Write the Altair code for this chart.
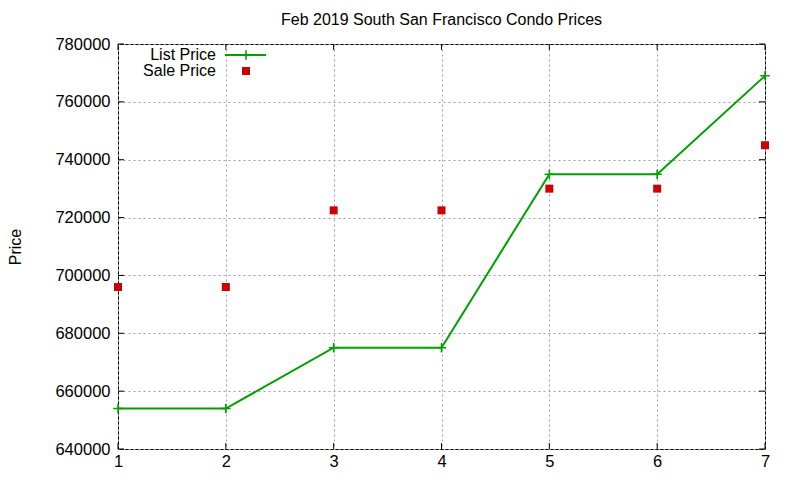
import pandas as pd
import altair as alt

# ------------------------------------------------------------
# Data
# ------------------------------------------------------------
months = [1, 2, 3, 4, 5, 6, 7]
list_price = [654000, 654000, 675000, 675000, 735000, 735000, 769000]
sale_price = [696000, 696000, 722500, 722500, 730000, 730000, 745000]

y_ticks = [640000, 660000, 680000, 700000, 720000, 740000, 760000, 780000]
x_ticks = [1, 2, 3, 4, 5, 6, 7]

df = pd.DataFrame({"month": months, "list": list_price, "sale": sale_price})
ydf = pd.DataFrame({"v": y_ticks})
xdf = pd.DataFrame({"v": x_ticks})

GREEN = "#00a000"
RED = "#cc0000"
FONT = "Liberation Sans"
W, H = 647, 405

x_scale = alt.Scale(domain=[1, 7], nice=False, zero=False)
y_scale = alt.Scale(domain=[640000, 780000], nice=False, zero=False)

x_enc = alt.X(
    "month:Q",
    scale=x_scale,
    title=None,
    axis=alt.Axis(
        values=x_ticks, format="d", ticks=False, domain=False,
        labelPadding=4, labelFontSize=16.5, labelColor="black",
        labelFlush=False, labelBound=False,
        gridDash=[2, 3], gridColor="#a0a0a0", gridOpacity=1,
    ),
)

y_axis = alt.Axis(
    values=y_ticks, format="d", ticks=False, domain=False,
    labelPadding=8, labelFontSize=16.5, labelColor="black",
    labelFlush=False, labelBound=False,
    gridDash=[2, 3], gridColor="#a0a0a0", gridOpacity=1,
    title="Price", titleFontSize=16, titleFontWeight="normal",
    titleColor="black", titleX=-103, titleY=H / 2, titleAngle=-90,
    titleBaseline="middle", titleAlign="center",
)

# ------------------------------------------------------------
# Series
# ------------------------------------------------------------
list_line = alt.Chart(df).mark_line(color=GREEN, strokeWidth=2).encode(
    x=x_enc,
    y=alt.Y("list:Q", scale=y_scale, axis=y_axis),
)

list_pts = alt.Chart(df).mark_point(
    shape="M-1,0H1M0,-1V1", filled=False, stroke=GREEN, strokeWidth=1.6,
    size=90, opacity=1,
).encode(
    x=alt.X("month:Q", scale=x_scale),
    y=alt.Y("list:Q", scale=y_scale),
)

sale_pts = alt.Chart(df).mark_square(color=RED, size=64, opacity=1).encode(
    x=alt.X("month:Q", scale=x_scale),
    y=alt.Y("sale:Q", scale=y_scale),
)

# ------------------------------------------------------------
# gnuplot-style inward ticks on all four sides
# ------------------------------------------------------------
tick_l = alt.Chart(ydf).mark_rule(color="black").encode(
    y=alt.Y("v:Q", scale=y_scale), x=alt.value(0), x2=alt.value(6))
tick_r = alt.Chart(ydf).mark_rule(color="black").encode(
    y=alt.Y("v:Q", scale=y_scale), x=alt.value(W - 6), x2=alt.value(W))
tick_b = alt.Chart(xdf).mark_rule(color="black").encode(
    x=alt.X("v:Q", scale=x_scale), y=alt.value(H - 6), y2=alt.value(H))
tick_t = alt.Chart(xdf).mark_rule(color="black").encode(
    x=alt.X("v:Q", scale=x_scale), y=alt.value(0), y2=alt.value(6))

# ------------------------------------------------------------
# Key (top left, labels right-aligned before the samples)
# ------------------------------------------------------------
key_txt = alt.Chart(df.head(1)).mark_text(
    align="right", baseline="middle", font=FONT, fontSize=16, color="black")
key_list_txt = key_txt.encode(x=alt.value(98), y=alt.value(11), text=alt.value("List Price"))
key_sale_txt = key_txt.encode(x=alt.value(98), y=alt.value(27), text=alt.value("Sale Price"))
key_line = alt.Chart(df.head(1)).mark_rule(color=GREEN, strokeWidth=2).encode(
    x=alt.value(107), x2=alt.value(148), y=alt.value(11))
key_plus = alt.Chart(df.head(1)).mark_point(
    shape="M-1,0H1M0,-1V1", filled=False, stroke=GREEN, strokeWidth=1.6,
    size=90, opacity=1,
).encode(x=alt.value(128), y=alt.value(11))
key_sq = alt.Chart(df.head(1)).mark_square(color=RED, size=64, opacity=1).encode(
    x=alt.value(128), y=alt.value(27))

chart = (
    alt.layer(
        list_line, list_pts, sale_pts,
        tick_l, tick_r, tick_b, tick_t,
        key_list_txt, key_sale_txt, key_line, key_plus, key_sq,
    )
    .properties(
        width=W,
        height=H,
        autosize=alt.AutoSizeParams(type="none"),
        padding={"left": 110, "top": 36, "right": 27, "bottom": 23},
        title=alt.TitleParams(
            "Feb 2019 South San Francisco Condo Prices",
            fontSize=16, fontWeight="normal", font=FONT, color="black",
            anchor="middle", offset=8,
        ),
    )
    .configure(font=FONT)
    .configure_view(stroke="black", strokeWidth=1)
    .configure_axis(labelFont=FONT, titleFont=FONT)
)

chart.save("out.html", embed_options={"renderer": "svg", "actions": False})
